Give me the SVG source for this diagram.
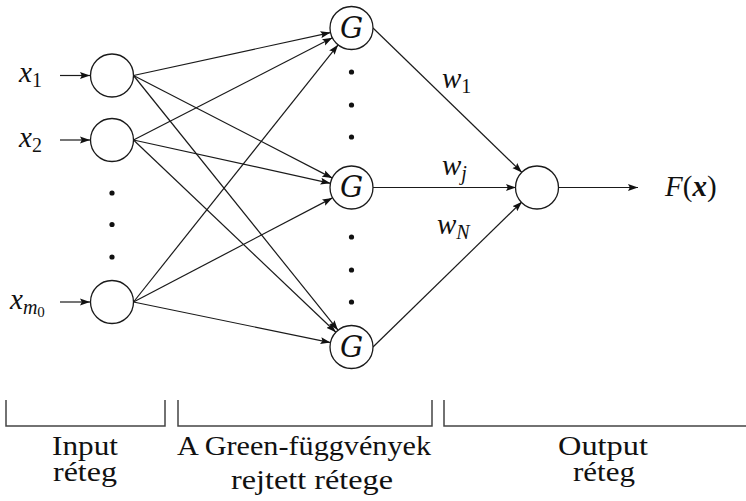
<svg xmlns="http://www.w3.org/2000/svg" width="746" height="501" viewBox="0 0 746 501">
<style>
.node{fill:#fff;stroke:#1a1a1a;stroke-width:1.3}
.edge{fill:none;stroke:#1a1a1a;stroke-width:1.2}
.br{fill:none;stroke:#444;stroke-width:1.5}
.dot{fill:#111}
.mi{font-style:italic;font-size:29px;fill:#111}
.sub{font-size:20px}
.subsub{font-size:15px;font-style:normal}
.lbl{font-size:28px;fill:#111;text-anchor:middle}
</style>
<defs>
<marker id="ah" markerUnits="userSpaceOnUse" markerWidth="11" markerHeight="8" refX="10" refY="4" orient="auto">
<path d="M0,0.5 L10,4 L0,7.5 L1.8,4 z" fill="#111"/>
</marker>
</defs>
<g id="connectors">
<line class="edge" x1="60" y1="75.5" x2="90" y2="75.5" marker-end="url(#ah)"/>
<line class="edge" x1="60" y1="140" x2="90" y2="140" marker-end="url(#ah)"/>
<line class="edge" x1="60" y1="302" x2="90" y2="302" marker-end="url(#ah)"/>
<line class="edge" x1="133.5" y1="75.5" x2="330.5" y2="32.6" marker-end="url(#ah)"/>
<line class="edge" x1="133.5" y1="75.5" x2="332.4" y2="178.1" marker-end="url(#ah)"/>
<line class="edge" x1="133.5" y1="75.5" x2="338" y2="330.2" marker-end="url(#ah)"/>
<line class="edge" x1="133.5" y1="140" x2="332.4" y2="37.8" marker-end="url(#ah)"/>
<line class="edge" x1="133.5" y1="140" x2="330.5" y2="183.3" marker-end="url(#ah)"/>
<line class="edge" x1="133.5" y1="140" x2="335.9" y2="332.2" marker-end="url(#ah)"/>
<line class="edge" x1="133.5" y1="302" x2="338.1" y2="44.8" marker-end="url(#ah)"/>
<line class="edge" x1="133.5" y1="302" x2="332.4" y2="197.9" marker-end="url(#ah)"/>
<line class="edge" x1="133.5" y1="302" x2="330.5" y2="342.6" marker-end="url(#ah)"/>
<line class="edge" x1="373" y1="28" x2="521.9" y2="172.4" marker-end="url(#ah)"/>
<line class="edge" x1="373" y1="187.5" x2="516" y2="187.5" marker-end="url(#ah)"/>
<line class="edge" x1="373" y1="347" x2="522" y2="201.7" marker-end="url(#ah)"/>
<line class="edge" x1="558" y1="187.5" x2="638" y2="187.5" marker-end="url(#ah)"/>
</g>
<g id="in1"><circle class="node" cx="112" cy="75.5" r="21.5"/></g>
<g id="in2"><circle class="node" cx="112" cy="140" r="21.5"/></g>
<g id="in3"><circle class="node" cx="112" cy="302" r="21.5"/></g>
<g id="g1" font-family="DejaVu Serif, serif"><circle class="node" cx="351.5" cy="28" r="21.5"/><text class="mi" x="351.5" y="37.5" text-anchor="middle" font-size="26">G</text></g>
<g id="g2" font-family="DejaVu Serif, serif"><circle class="node" cx="351.5" cy="187.5" r="21.5"/><text class="mi" x="351.5" y="197" text-anchor="middle" font-size="26">G</text></g>
<g id="g3" font-family="DejaVu Serif, serif"><circle class="node" cx="351.5" cy="347" r="21.5"/><text class="mi" x="351.5" y="356.5" text-anchor="middle" font-size="26">G</text></g>
<g id="out"><circle class="node" cx="537" cy="187.5" r="21.5"/></g>
<g id="dots">
<circle class="dot" cx="112" cy="193" r="2.6"/>
<circle class="dot" cx="112" cy="224.5" r="2.6"/>
<circle class="dot" cx="112" cy="257" r="2.6"/>
<circle class="dot" cx="351.5" cy="72" r="2.6"/>
<circle class="dot" cx="351.5" cy="105" r="2.6"/>
<circle class="dot" cx="351.5" cy="137" r="2.6"/>
<circle class="dot" cx="351.5" cy="237" r="2.6"/>
<circle class="dot" cx="351.5" cy="270" r="2.6"/>
<circle class="dot" cx="351.5" cy="302" r="2.6"/>
</g>
<g id="labels" font-family="Liberation Serif, serif">
<text class="mi" x="19" y="82">x<tspan class="sub" font-style="normal" dy="5">1</tspan></text>
<text class="mi" x="19" y="146.5">x<tspan class="sub" font-style="normal" dy="5">2</tspan></text>
<text class="mi" x="10" y="308.5">x<tspan class="sub" dy="5">m</tspan><tspan class="subsub" dy="3">0</tspan></text>
<text class="mi" x="442" y="88">w<tspan class="sub" font-style="normal" dy="5">1</tspan></text>
<text class="mi" x="442" y="175">w<tspan class="sub" dy="5">j</tspan></text>
<text class="mi" x="437" y="234">w<tspan class="sub" dy="5">N</tspan></text>
<text class="mi" x="665" y="196">F<tspan font-style="normal">(</tspan><tspan font-weight="bold">x</tspan><tspan font-style="normal">)</tspan></text>
</g>
<g id="brackets">
<path class="br" d="M6,400 V426 H165 V400"/>
<path class="br" d="M178,400 V426 H432 V400"/>
<path class="br" d="M444,400 V426 H750"/>
</g>
<g id="layer-labels" font-family="Liberation Serif, serif">
<text class="lbl" x="85" y="455" textLength="66" lengthAdjust="spacingAndGlyphs">Input</text>
<text class="lbl" x="85" y="481" textLength="64" lengthAdjust="spacingAndGlyphs">réteg</text>
<text class="lbl" x="304" y="455" textLength="254" lengthAdjust="spacingAndGlyphs">A Green-függvények</text>
<text class="lbl" x="312" y="489" textLength="162" lengthAdjust="spacingAndGlyphs">rejtett rétege</text>
<text class="lbl" x="603" y="455" textLength="90" lengthAdjust="spacingAndGlyphs">Output</text>
<text class="lbl" x="604" y="481" textLength="62" lengthAdjust="spacingAndGlyphs">réteg</text>
</g>
</svg>
